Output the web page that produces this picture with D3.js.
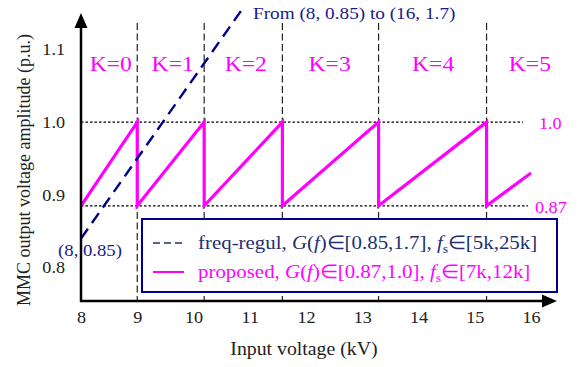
<!DOCTYPE html>
<html>
<head>
<meta charset="utf-8">
<script src="https://cdn.jsdelivr.net/npm/d3@7"></script>
<style>
  body { margin: 0; background: #fff; }
  svg text { font-family: "Liberation Serif", "Times New Roman", serif; }
</style>
</head>
<body>
<svg id="vis" width="584" height="367"></svg>
<script>
// data
var xTicks = [8, 9, 10, 11, 12, 13, 14, 15, 16];
var yTicks = [0.8, 0.9, 1.0, 1.1];
var kBounds = [9.0, 10.19, 11.58, 13.29, 15.21];      // boundaries between K regions (kV)
var kLabels = ["K=0", "K=1", "K=2", "K=3", "K=4", "K=5"];
var kLabelX = [8.53, 9.63, 10.93, 12.42, 14.26, 15.98];
var propLow = 0.885, propHigh = 1.0, propEnd = 0.93;  // proposed sawtooth
var freqX = [8, 16], freqY = [0.84, 1.72];           // freq-regul straight line

var svg = d3.select("#vis");
var x = d3.scaleLinear().domain([8, 16]).range([81, 531]);
var y = d3.scaleLinear().domain([0.75, 1.15]).range([304, 13]);
var yAxisPos = 301;
var navy = "#00008b", mag = "#ff00ff", txtNavy = "#1f2f6f", annNavy = "#1a1a8c";
var SX = 1.1; // the figure text is a bit wider than tall

// widen text horizontally around its anchor point
function stretch(sel) {
  sel.each(function() {
    var t = d3.select(this), tx = +t.attr("x") || 0, ty = +t.attr("y") || 0;
    t.attr("transform", "translate(" + tx + "," + ty + ") scale(" + SX + ",1) translate(" + (-tx) + "," + (-ty) + ")");
  });
}

// sawtooth points
var prop = [[8, propLow]];
kBounds.forEach(function(b) { prop.push([b, propHigh]); prop.push([b, propLow]); });
prop.push([16, propEnd]);

var line = d3.line().x(function(d) { return x(d[0]); }).y(function(d) { return y(d[1]); });

svg.append("defs").append("clipPath").attr("id", "clip")
  .append("rect").attr("x", 81).attr("y", 10).attr("width", 480).attr("height", 292);

// vertical dashed region lines
svg.append("g").selectAll("line").data(kBounds).enter().append("line")
    .attr("x1", function(d) { return x(d); }).attr("x2", function(d) { return x(d); })
    .attr("y1", 23).attr("y2", yAxisPos)
    .attr("stroke", "#222").attr("stroke-width", 1.2).attr("stroke-dasharray", "7,3.5");

// horizontal dotted reference lines
svg.append("line").attr("x1", x(8)).attr("x2", 523).attr("y1", y(propHigh)).attr("y2", y(propHigh))
    .attr("stroke", "#000").attr("stroke-width", 1.3).attr("stroke-dasharray", "2.5,2");
svg.append("line").attr("x1", x(8)).attr("x2", 528).attr("y1", y(propLow)).attr("y2", y(propLow))
    .attr("stroke", "#000").attr("stroke-width", 1.3).attr("stroke-dasharray", "2.5,2");

stretch(svg.append("text").attr("x", 539).attr("y", y(propHigh) + 1).attr("dy", "0.35em")
    .attr("fill", mag).attr("font-size", 16.5).text("1.0"));
stretch(svg.append("text").attr("x", 535).attr("y", y(propLow) + 1).attr("dy", "0.35em")
    .attr("fill", mag).attr("font-size", 16.5).text("0.87"));

// proposed sawtooth
svg.append("path").datum(prop).attr("d", line)
    .attr("fill", "none").attr("stroke", mag).attr("stroke-width", 3.2).attr("stroke-linejoin", "miter");

// freq-regul dashed line
svg.append("path").datum(d3.zip(freqX, freqY)).attr("d", line)
    .attr("clip-path", "url(#clip)")
    .attr("fill", "none").attr("stroke", navy).attr("stroke-width", 2.4).attr("stroke-dasharray", "12,7");

// K labels
stretch(svg.append("g").selectAll("text").data(kLabels).enter().append("text")
    .attr("x", function(d, i) { return x(kLabelX[i]); }).attr("y", 71)
    .attr("text-anchor", "middle").attr("fill", mag).attr("font-size", 21.5)
    .text(function(d) { return d; }));

// annotations
stretch(svg.append("text").attr("x", 253).attr("y", 19).attr("fill", annNavy).attr("font-size", 17.5)
    .text("From (8, 0.85) to (16, 1.7)"));
stretch(svg.append("text").attr("x", 90).attr("y", 256).attr("text-anchor", "middle")
    .attr("fill", annNavy).attr("font-size", 17).text("(8, 0.85)"));

// legend
var leg = svg.append("g");
leg.append("rect").attr("x", 142).attr("y", 219).attr("width", 415).attr("height", 73)
    .attr("fill", "#fff").attr("stroke", navy).attr("stroke-width", 2);
leg.append("line").attr("x1", 153).attr("x2", 184).attr("y1", 243).attr("y2", 243)
    .attr("stroke", txtNavy).attr("stroke-width", 1.6).attr("stroke-dasharray", "7,4");
leg.append("line").attr("x1", 153).attr("x2", 184).attr("y1", 272).attr("y2", 272)
    .attr("stroke", mag).attr("stroke-width", 2);

function legendText(yy, col, name, range, fs) {
  var t = leg.append("text").attr("x", 198).attr("y", yy).attr("fill", col).attr("font-size", 19);
  t.append("tspan").text(name + ", ");
  t.append("tspan").attr("font-style", "italic").text("G");
  t.append("tspan").text("(");
  t.append("tspan").attr("font-style", "italic").text("f");
  t.append("tspan").text(")\u2208" + range + ", ");
  t.append("tspan").attr("font-style", "italic").text("f");
  t.append("tspan").attr("font-size", 12.5).attr("dy", 4).text("s");
  t.append("tspan").attr("dy", -4).text("\u2208" + fs);
  stretch(t);
}
legendText(249, txtNavy, "freq-regul", "[0.85,1.7]", "[5k,25k]");
legendText(278, mag, "proposed", "[0.87,1.0]", "[7k,12k]");

// axes with arrows
svg.append("line").attr("x1", 81).attr("x2", 81).attr("y1", 24).attr("y2", yAxisPos + 1)
    .attr("stroke", "#000").attr("stroke-width", 2.5);
svg.append("line").attr("x1", 80).attr("x2", 545).attr("y1", yAxisPos).attr("y2", yAxisPos)
    .attr("stroke", "#000").attr("stroke-width", 2.5);
svg.append("path").attr("d", "M81,13 L74.5,28 L87.5,28 Z").attr("fill", "#000");
svg.append("path").attr("d", "M557,301 L542,294.5 L542,307.5 Z").attr("fill", "#000");

// tick labels
var xAxis = svg.append("g").attr("transform", "translate(0," + yAxisPos + ")")
    .call(d3.axisBottom(x).tickValues(xTicks).tickSize(0).tickPadding(10).tickFormat(d3.format("d")));
xAxis.select(".domain").remove();
stretch(xAxis.selectAll("text").attr("font-size", 16.5).attr("fill", "#222"));

var yAxis = svg.append("g").attr("transform", "translate(81,0)")
    .call(d3.axisLeft(y).tickValues(yTicks).tickSize(0).tickPadding(16).tickFormat(d3.format(".1f")));
yAxis.select(".domain").remove();
stretch(yAxis.selectAll("text").attr("font-size", 16.5).attr("fill", "#222"));

// axis titles
stretch(svg.append("text").attr("x", 304).attr("y", 355).attr("text-anchor", "middle")
    .attr("font-size", 18).attr("fill", "#222").text("Input voltage (kV)"));
svg.append("text").attr("transform", "translate(30,170) rotate(-90)").attr("text-anchor", "middle")
    .attr("font-size", 18).attr("fill", "#222").text("MMC output voltage amplitude (p.u.)");
</script>
</body>
</html>
